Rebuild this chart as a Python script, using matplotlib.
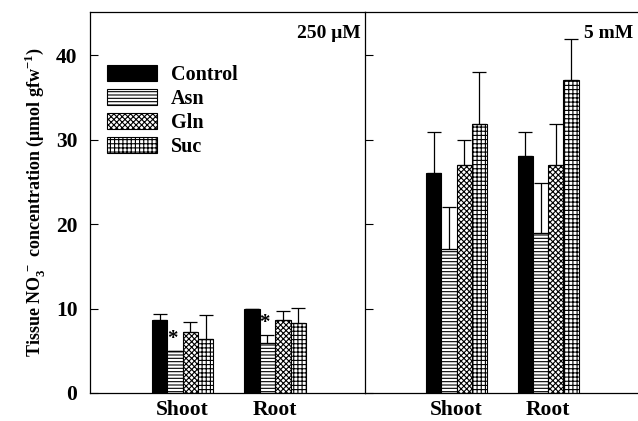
import matplotlib
matplotlib.use("Agg")
import matplotlib.pyplot as plt
import numpy as np

plt.rcParams['font.family'] = ['Liberation Serif', 'DejaVu Serif']
plt.rcParams['font.weight'] = 'bold'
plt.rcParams['hatch.linewidth'] = 0.8
plt.rcParams['mathtext.fontset'] = 'custom'
plt.rcParams['mathtext.rm'] = 'Liberation Serif:bold'
plt.rcParams['mathtext.bf'] = 'Liberation Serif:bold'

groups = ["Shoot", "Root"]
treatments = ["Control", "Asn", "Gln", "Suc"]
panel_labels = ["250 μM", "5 mM"]

# values [treatment][group]
low_means = [[8.7, 9.9], [5.0, 5.9], [7.2, 8.6], [6.4, 8.3]]
low_tops = [[9.3, 9.9], [5.0, 6.9], [8.4, 9.7], [9.2, 10.1]]
high_means = [[26.0, 28.0], [17.0, 18.9], [27.0, 27.0], [31.9, 37.0]]
high_tops = [[30.9, 30.9], [22.0, 24.9], [30.0, 31.9], [38.0, 41.9]]
low_stars = [[False, False], [True, True], [False, False], [False, False]]

hatches = [None, "-----", "xxxxxx", "++++"]
colors = ["black", "white", "white", "white"]

fig = plt.figure(figsize=(6.38, 4.21), dpi=100)
axL = fig.add_axes([90/638, 1-393/421, 275/638, 381/421])
axR = fig.add_axes([365/638, 1-393/421, 272/638, 381/421], sharey=axL)

w = 0.166
x = np.arange(len(groups))
for ax, means, tops, label in [(axL, low_means, low_tops, panel_labels[0]),
                               (axR, high_means, high_tops, panel_labels[1])]:
    for i, t in enumerate(treatments):
        pos = x + (i - 1.5) * w
        m = np.array(means[i])
        err = np.array(tops[i]) - m
        ax.bar(pos, m, width=w, color=colors[i], edgecolor="black",
               hatch=hatches[i], linewidth=0.8, label=t)
        ax.errorbar(pos, m, yerr=[np.zeros_like(err), err], fmt="none",
                    ecolor="black", elinewidth=0.9, capsize=5, capthick=0.9)
    ax.set_xlim(-1.0, 1.97)
    ax.set_ylim(0, 45.1)
    ax.set_xticks(x)
    ax.set_xticklabels(groups, fontsize=15.5, fontweight='bold')
    ax.tick_params(axis='x', length=0, pad=5)
    ax.tick_params(axis='y', direction='in', length=6, width=0.8)
    ax.spines['right'].set_visible(False)
    for s in ['left', 'top', 'bottom']:
        ax.spines[s].set_linewidth(0.9)
    ax.text(0.985, 0.965, label, transform=ax.transAxes, ha='right', va='top',
            fontsize=14, fontweight='bold')

for i in range(len(treatments)):
    for j in range(len(groups)):
        if low_stars[i][j]:
            axL.text(x[j] + (i - 1.5) * w - 0.03, low_tops[i][j] + 0.2, "*",
                     ha='center', va='bottom', fontsize=15, fontweight='bold')

axL.set_yticks([0, 10, 20, 30, 40])
axL.set_yticklabels(["0", "10", "20", "30", "40"], fontsize=15.5, fontweight='bold')
axL.tick_params(axis='y', pad=9)
plt.setp(axR.get_yticklabels(), visible=False)
axL.set_ylabel(r"Tissue NO$_3^{\,-}$ concentration ($\mathrm{\mu}$mol gfw$^{-1}$)",
               fontsize=13, fontweight='bold', labelpad=6)

axL.legend(loc='upper left', bbox_to_anchor=(0.062, 0.862), frameon=False,
           handlelength=2.5, handleheight=0.87, labelspacing=0.2,
           handletextpad=0.67, borderaxespad=0, borderpad=0,
           prop={'weight': 'bold', 'size': 14.5})

fig.savefig("out.png", dpi=100)
